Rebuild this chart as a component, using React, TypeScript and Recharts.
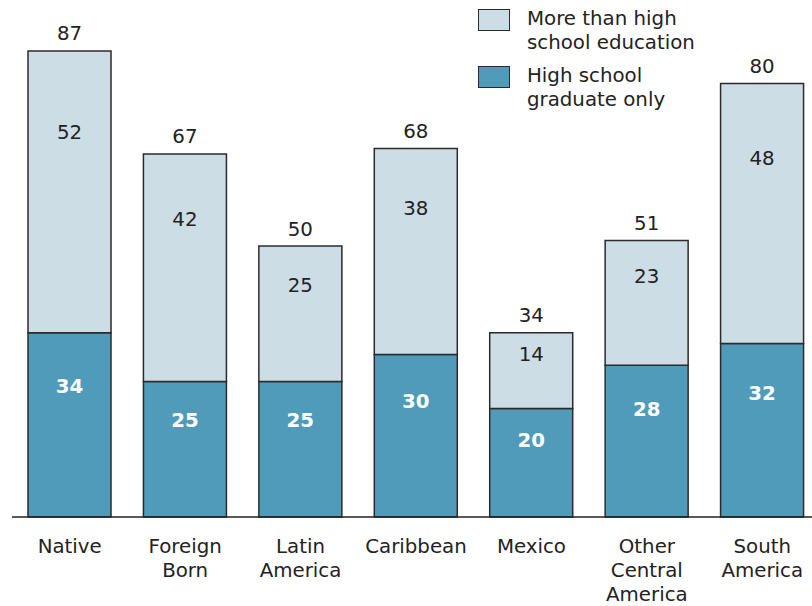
import React from "react";
import { Bar, BarChart, LabelList, Legend, XAxis, YAxis } from "recharts";

const categories = [
  "Native",
  "Foreign Born",
  "Latin America",
  "Caribbean",
  "Mexico",
  "Other Central America",
  "South America",
];
const highSchoolOnly = [34, 25, 25, 30, 20, 28, 32];
const moreThanHighSchool = [52, 42, 25, 38, 14, 23, 48];
const totals = [87, 67, 50, 68, 34, 51, 80];

const data = categories.map((name, i) => ({
  name,
  hs: highSchoolOnly[i],
  more: moreThanHighSchool[i],
}));

const FONT = "'DejaVu Sans', Verdana, sans-serif";
const FS = 19.8;
const LIGHT = "#cddde5";
const DARK = "#4f9bb9";
const EDGE = "#2b2b2b";

function CategoryTick(props: any) {
  const { x, y, payload } = props;
  const lines = String(payload.value).split(" ");
  return (
    <text x={x} y={y} textAnchor="middle" fontFamily={FONT} fontSize={FS} fill="#222">
      {lines.map((line, i) => (
        <tspan key={i} x={x} y={y + 27 + i * 24} dominantBaseline="central">
          {line}
        </tspan>
      ))}
    </text>
  );
}

function segmentLabel(color: string, bold: boolean) {
  return (props: any) => {
    const { x, y, width, height, value } = props;
    return (
      <text
        x={x + width / 2}
        y={y + height * 0.29}
        textAnchor="middle"
        dominantBaseline="central"
        fontFamily={FONT}
        fontSize={FS}
        fontWeight={bold ? "bold" : "normal"}
        fill={color}
      >
        {value}
      </text>
    );
  };
}

function totalLabel(props: any) {
  const { x, y, width, index } = props;
  return (
    <text
      x={x + width / 2}
      y={y - 17}
      textAnchor="middle"
      dominantBaseline="central"
      fontFamily={FONT}
      fontSize={FS}
      fill="#222"
    >
      {totals[index]}
    </text>
  );
}

const legendItems = [
  { color: LIGHT, lines: ["More than high", "school education"] },
  { color: DARK, lines: ["High school", "graduate only"] },
];

function LegendBox() {
  return (
    <div style={{ fontFamily: FONT, fontSize: FS, color: "#222" }}>
      {legendItems.map((item, i) => (
        <div key={i} style={{ position: "relative", height: 57 }}>
          <div
            style={{
              position: "absolute",
              left: 0,
              top: 0,
              width: 30,
              height: 20,
              background: item.color,
              border: `1.5px solid ${EDGE}`,
            }}
          />
          {item.lines.map((line, j) => (
            <div
              key={j}
              style={{
                position: "absolute",
                left: 49,
                top: j * 24 - 2,
                lineHeight: "24px",
                whiteSpace: "nowrap",
              }}
            >
              {line}
            </div>
          ))}
        </div>
      ))}
    </div>
  );
}

export default function App() {
  return (
    <div
      style={{
        position: "absolute",
        left: 0,
        top: 0,
        width: 812,
        height: 606,
        overflow: "hidden",
        background: "#fff",
      }}
    >
      <BarChart
        width={820}
        height={606}
        data={data}
        margin={{ top: 0, right: 0, left: 12, bottom: 0 }}
        barSize={83}
      >
        <XAxis
          dataKey="name"
          height={89}
          tickLine={false}
          tickSize={0}
          axisLine={{ stroke: "#222", strokeWidth: 1.5 }}
          tick={<CategoryTick />}
          interval={0}
        />
        <YAxis hide domain={[0, 95.4]} />
        <Legend
          layout="vertical"
          align="center"
          verticalAlign="middle"
          content={<LegendBox />}
          wrapperStyle={{ position: "absolute", left: 478, top: 9, width: 320, height: 120 }}
        />
        <Bar
          dataKey="hs"
          stackId="a"
          fill={DARK}
          stroke={EDGE}
          strokeWidth={1.5}
          isAnimationActive={false}
        >
          <LabelList dataKey="hs" content={segmentLabel("#ffffff", true)} />
        </Bar>
        <Bar
          dataKey="more"
          stackId="a"
          fill={LIGHT}
          stroke={EDGE}
          strokeWidth={1.5}
          isAnimationActive={false}
        >
          <LabelList dataKey="more" content={segmentLabel("#222", false)} />
          <LabelList dataKey="more" content={totalLabel} />
        </Bar>
      </BarChart>
    </div>
  );
}
